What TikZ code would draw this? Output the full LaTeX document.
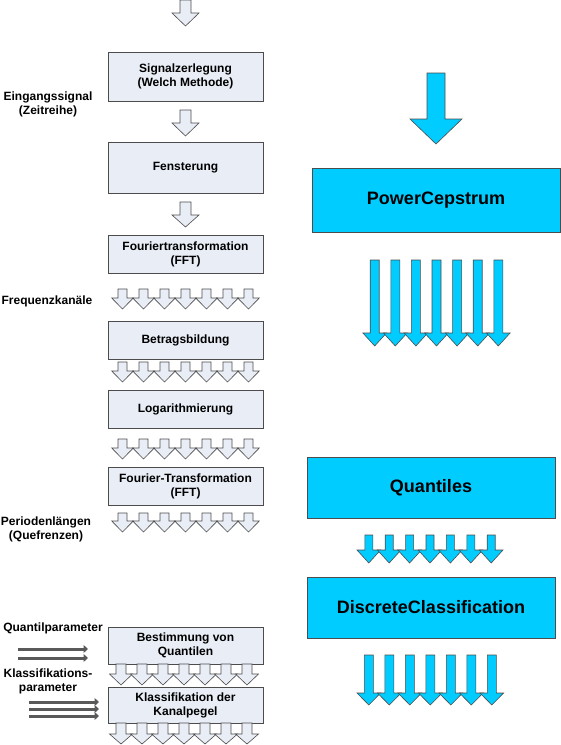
\documentclass[tikz,border=0pt]{standalone}
\usepackage{fontspec}
\setmainfont{Liberation Sans}
\usetikzlibrary{arrows.meta,positioning}

\definecolor{boxfill}{HTML}{E9EDF6}
\definecolor{cyanfill}{HTML}{00CCFF}

% block arrow pointing down: [style]{x}{top}{base of head}{tip}{half shaft}{half head}
\newcommand{\downarr}[7][]{%
  \draw[#1] ({#2-#6},#3) -- ({#2+#6},#3) -- ({#2+#6},#4) -- ({#2+#7},#4)
    -- (#2,#5) -- ({#2-#7},#4) -- ({#2-#6},#4) -- cycle;}

\begin{document}
\begin{tikzpicture}[x=1pt, y=-1pt,
  lbox/.style={draw=black!70, fill=boxfill, minimum width=155pt, align=center,
    inner sep=0pt, font=\bfseries\fontsize{12}{14}\selectfont},
  rbox/.style={draw=black!70, fill=cyanfill, minimum width=248pt,
    font=\bfseries\fontsize{18}{20}\selectfont},
  lab/.style={align=center, inner sep=0pt, font=\bfseries\fontsize{12}{14}\selectfont},
  larr/.style={draw=black!70, fill=boxfill, line width=0.6pt},
  rarr/.style={draw=black!70, fill=cyanfill, line width=0.6pt},
  parline/.style={line width=3pt, draw=black!65, -{Triangle[length=4.5pt,width=8pt]}}]
  \useasboundingbox (0,0) rectangle (561,745);

  % left column
  \node[lbox, minimum height=49pt] (zerl) at (185.5,76.5) {Signalzerlegung\\(Welch Methode)};
  \node[lbox, minimum height=51pt] (fens) at (185.5,167.5) {Fensterung};
  \node[lbox, minimum height=38pt] (fft1) at (185.5,254) {Fouriertransformation\\(FFT)};
  \node[lbox, minimum height=38pt] (betr) at (185.5,340) {Betragsbildung};
  \node[lbox, minimum height=38pt] (loga) at (185.5,409) {Logarithmierung};
  \node[lbox, minimum height=38pt] (fft2) at (185.5,486) {Fourier-Transformation\\(FFT)};
  \node[lbox, minimum height=37pt] (quant) at (185.5,645.5) {Bestimmung von\\Quantilen};
  \node[lbox, minimum height=36pt] (klass) at (185.5,705) {Klassifikation der\\Kanalpegel};

  \node[lab] (ein) at (48,104) {Eingangssignal\\(Zeitreihe)};
  \node[lab] (freq) at (47,301) {Frequenzkanäle};
  \node[lab] (peri) at (46,529) {Periodenlängen\\(Quefrenzen)};
  \node[lab] (qpar) at (53,628) {Quantilparameter};
  \node[lab] (kpar) at (48,681) {Klassifikations-\\parameter};

  \downarr[larr]{185.5}{0}{13}{26}{5.5}{13.5}
  \downarr[larr]{185.5}{110}{123}{136}{5.5}{13.5}
  \downarr[larr]{185.5}{202}{215}{227}{5.5}{13.5}
  \foreach \k in {0,...,6} {
    \downarr[larr]{122.5+21*\k}{289}{298}{309}{4.5}{10.8}
    \downarr[larr]{122.5+21*\k}{362}{371}{382}{4.5}{10.8}
    \downarr[larr]{122.5+21*\k}{439}{448}{459}{4.5}{10.8}
    \downarr[larr]{122.5+21*\k}{513}{521}{532}{4.5}{10.8}
    \downarr[larr]{121+21*\k}{664}{674}{685}{5}{11.5}
    \downarr[larr]{121+21*\k}{723}{734}{744}{5}{11.5}
  }

  \foreach \i/\y in {1/649,2/658} {
    \coordinate (qs\i) at (18,\y);
    \coordinate (qe\i) at (88,\y);
    \draw[parline] (qs\i) -- (qe\i);
  }
  \foreach \i/\y in {1/702,2/709,3/716} {
    \coordinate (ks\i) at (29,\y);
    \coordinate (ke\i) at (99,\y);
    \draw[parline] (ks\i) -- (ke\i);
  }

  % right column
  \node[rbox, minimum height=64pt] (pc) at (436,200) {PowerCepstrum};
  \node[rbox, minimum height=61pt] (qu) at (431,487.5) {Quantiles};
  \node[rbox, minimum height=61pt] (dc) at (431,607.5) {DiscreteClassification};

  \downarr[rarr]{436}{73}{119}{144}{9}{26}
  \foreach \k in {0,...,6} {
    \downarr[rarr]{374.7+20.6*\k}{260}{333}{346}{4.5}{11.8}
    \downarr[rarr]{368.8+20.4*\k}{535}{550}{563}{4}{11.8}
    \downarr[rarr]{368.8+20.5*\k}{655}{693}{705}{4.5}{11.8}
  }
\end{tikzpicture}
\end{document}
